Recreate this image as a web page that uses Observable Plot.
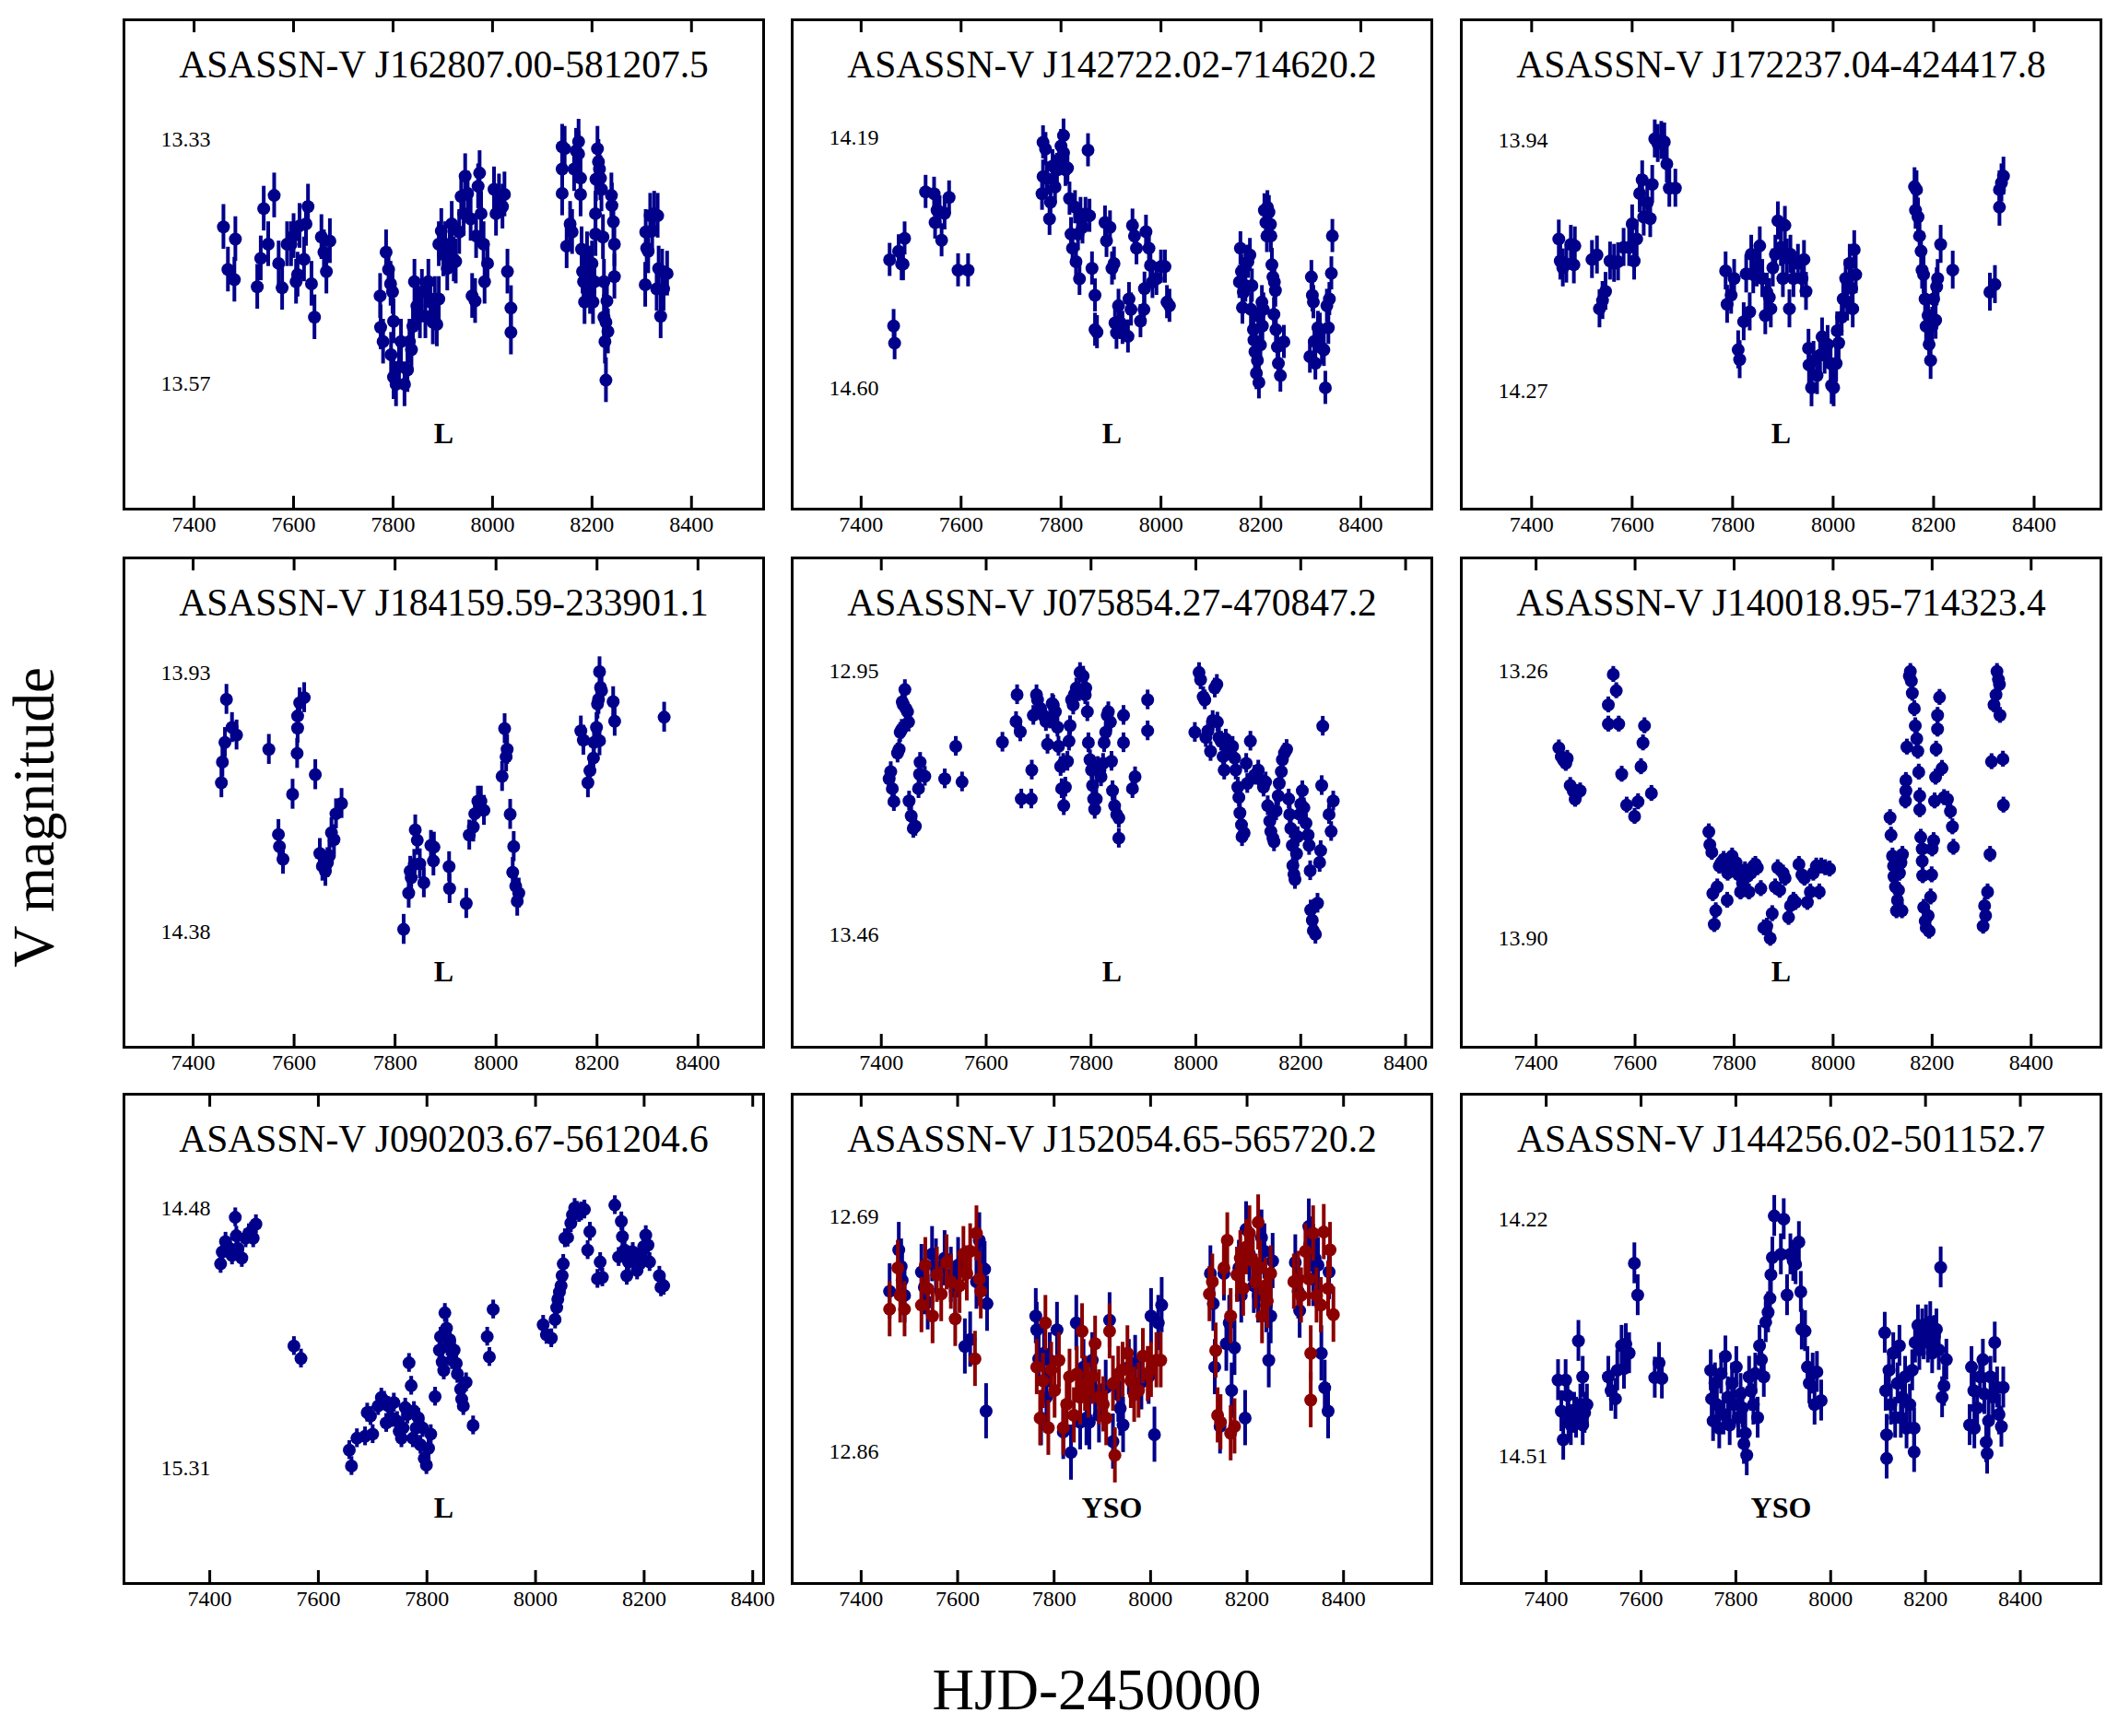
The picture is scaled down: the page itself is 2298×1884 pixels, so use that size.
<!DOCTYPE html>
<html><head><meta charset="utf-8">
<script src="https://cdn.jsdelivr.net/npm/d3@7"></script>
<script src="https://cdn.jsdelivr.net/npm/@observablehq/plot@0.6"></script>
<style>
body{margin:0;background:#fff;}
#root{position:relative;width:2298px;height:1884px;background:#fff;overflow:hidden;font-family:"Liberation Serif","Times New Roman",serif;}
#root svg.panel{position:absolute;font-family:"Liberation Serif","Times New Roman",serif !important;}
#root svg text{font-family:"Liberation Serif","Times New Roman",serif !important;}
</style></head><body><div id="root"></div>
<script>
const titles = ["ASASSN-V J162807.00-581207.5","ASASSN-V J142722.02-714620.2","ASASSN-V J172237.04-424417.8",
"ASASSN-V J184159.59-233901.1","ASASSN-V J075854.27-470847.2","ASASSN-V J140018.95-714323.4",
"ASASSN-V J090203.67-561204.6","ASASSN-V J152054.65-565720.2","ASASSN-V J144256.02-501152.7"];
const classes = ["L","L","L","L","L","L","L","YSO","YSO"];
const yLabels = [[13.33,13.57],[14.19,14.60],[13.94,14.27],[13.93,14.38],[12.95,13.46],[13.26,13.90],[14.48,15.31],[12.69,12.86],[14.22,14.51]];
const yDomains = [[13.212,13.694],[13.998,14.797],[13.781,14.426],[13.730,14.581],[12.731,13.679],[12.988,14.160],[14.114,15.680],[12.601,12.956],[14.067,14.666]];
const xDomains = [[7259,8545],[7262,8542],[7260,8533],[7263,8530],[7230,8450],[7249,8541],[7242,8420],[7257,8583],[7221,8570]];
const xTicks = [7400,7600,7800,8000,8200,8400];
const errs = [0.022,0.027,0.025,0.026,0.019,0.019,0.03,0.02,0.025];

const p1 = [[7459,13.416],[7468,13.458],[7481,13.468],[7483,13.428],[7527,13.475],[7534,13.447],[7540,13.398],[7549,13.433],[7561,13.385],[7570,13.452],[7577,13.476],[7587,13.433],[7595,13.433],[7600,13.425],[7605,13.470],[7608,13.463],[7612,13.415],[7621,13.448],[7625,13.413],[7629,13.396],[7636,13.472],[7642,13.505],[7656,13.426],[7661,13.441],[7666,13.460],[7673,13.430],
[7774,13.484],[7775,13.515],[7780,13.529],[7786,13.441],[7791,13.458],[7795,13.472],[7799,13.480],[7801,13.509],[7796,13.542],[7801,13.564],[7806,13.571],[7812,13.554],[7816,13.529],[7823,13.571],[7829,13.557],[7833,13.529],[7837,13.537],[7840,13.514],[7843,13.470],[7848,13.494],[7854,13.504],[7858,13.480],[7865,13.504],[7871,13.470],[7875,13.490],[7880,13.510],[7884,13.487],[7888,13.512],[7892,13.487],[7892,13.433],[7897,13.420],[7901,13.443],[7905,13.433],[7909,13.457],[7914,13.437],[7918,13.413],[7922,13.448],[7926,13.450],[7933,13.421],[7937,13.386],[7942,13.403],[7945,13.366],[7950,13.383],[7956,13.408],[7959,13.484],[7965,13.489],[7967,13.425],[7971,13.376],[7974,13.363],[7977,13.403],[7982,13.433],[7984,13.470],[7990,13.452],[8003,13.379],[8007,13.403],[8013,13.386],[8020,13.396],[8024,13.384],[8030,13.460],[8037,13.496],[8037,13.520],
[8140,13.337],[8140,13.359],[8140,13.383],[8145,13.339],[8149,13.435],[8156,13.413],[8160,13.421],[8164,13.359],[8168,13.341],[8173,13.332],[8173,13.344],[8177,13.368],[8177,13.384],[8179,13.438],[8181,13.460],[8183,13.470],[8185,13.490],[8190,13.443],[8194,13.457],[8196,13.480],[8200,13.452],[8202,13.490],[8205,13.470],[8207,13.403],[8207,13.423],[8208,13.369],[8211,13.339],[8213,13.352],[8215,13.359],[8217,13.368],[8219,13.379],[8222,13.426],[8224,13.470],[8224,13.505],[8226,13.529],[8228,13.510],[8228,13.567],[8230,13.489],[8232,13.519],[8239,13.385],[8240,13.395],[8243,13.411],[8245,13.433],[8245,13.465],
[8307,13.473],[8308,13.421],[8310,13.437],[8313,13.440],[8317,13.405],[8321,13.420],[8325,13.403],[8330,13.477],[8332,13.405],[8334,13.457],[8338,13.504],[8341,13.460],[8344,13.477],[8351,13.462]];

const p2 = [[7457,14.390],[7465,14.498],[7467,14.526],[7475,14.376],[7481,14.397],[7484,14.397],[7487,14.355],[7529,14.279],[7546,14.282],[7548,14.329],[7552,14.309],[7557,14.312],[7561,14.358],[7567,14.314],[7576,14.288],[7594,14.407],[7614,14.407],
[7764,14.198],[7764,14.254],[7762,14.282],[7769,14.209],[7772,14.257],[7777,14.323],[7779,14.296],[7783,14.237],[7788,14.271],[7792,14.243],[7796,14.226],[7800,14.204],[7805,14.187],[7805,14.215],[7809,14.243],[7813,14.240],[7817,14.290],[7820,14.348],[7823,14.371],[7828,14.304],[7830,14.393],[7834,14.348],[7837,14.421],[7839,14.315],[7843,14.337],[7849,14.315],[7854,14.211],[7857,14.318],[7862,14.404],[7868,14.448],[7868,14.504],[7872,14.508],[7888,14.329],[7891,14.359],[7898,14.337],[7902,14.404],[7906,14.396],[7908,14.493],[7911,14.509],[7915,14.465],[7919,14.493],[7923,14.501],[7934,14.515],[7936,14.454],[7940,14.471],[7943,14.334],[7947,14.351],[7951,14.371],[7959,14.490],[7966,14.471],[7967,14.437],[7970,14.344],[7976,14.371],[7979,14.399],[7983,14.426],[7991,14.421],[8000,14.401],[8008,14.401],[8012,14.459],[8017,14.465],
[8157,14.426],[8159,14.371],[8161,14.409],[8163,14.468],[8165,14.443],[8169,14.432],[8174,14.393],[8178,14.382],[8180,14.471],[8182,14.432],[8185,14.504],[8186,14.521],[8188,14.540],[8191,14.575],[8193,14.554],[8195,14.482],[8196,14.590],[8199,14.529],[8202,14.459],[8203,14.498],[8205,14.471],[8207,14.309],[8210,14.329],[8212,14.351],[8213,14.304],[8216,14.312],[8219,14.332],[8220,14.351],[8222,14.398],[8224,14.418],[8226,14.479],[8227,14.426],[8229,14.440],[8230,14.504],[8233,14.532],[8235,14.559],[8239,14.579],[8246,14.524],
[8298,14.548],[8301,14.418],[8303,14.448],[8305,14.459],[8307,14.523],[8309,14.559],[8314,14.501],[8318,14.504],[8322,14.534],[8326,14.537],[8329,14.599],[8332,14.465],[8335,14.501],[8337,14.454],[8341,14.412],[8343,14.351]];

const p3 = [[7454,14.070],[7457,14.099],[7462,14.108],[7469,14.103],[7478,14.077],[7484,14.104],[7486,14.079],[7520,14.097],[7530,14.091],[7535,14.162],[7541,14.151],[7547,14.139],[7556,14.099],[7564,14.102],[7572,14.100],[7583,14.081],[7594,14.081],[7600,14.050],[7604,14.099],[7609,14.070],[7615,14.010],[7620,13.992],[7623,14.041],[7630,14.022],[7636,14.043],[7640,13.998],[7645,13.938],[7651,13.944],[7658,13.940],[7664,13.942],[7669,13.971],[7674,14.003],[7686,14.003],
[7786,14.112],[7789,14.156],[7797,14.144],[7803,14.122],[7811,14.216],[7814,14.229],[7822,14.179],[7827,14.116],[7834,14.166],[7837,14.090],[7841,14.117],[7848,14.108],[7854,14.079],[7859,14.122],[7865,14.171],[7868,14.140],[7873,14.147],[7876,14.162],[7880,14.108],[7885,14.090],[7890,14.046],[7896,14.081],[7900,14.122],[7904,14.052],[7908,14.095],[7913,14.162],[7915,14.090],[7921,14.122],[7930,14.102],[7938,14.122],[7942,14.097],[7946,14.139],[7951,14.214],[7952,14.236],[7957,14.266],[7961,14.230],[7968,14.250],[7974,14.223],[7978,14.199],[7983,14.223],[7989,14.209],[7995,14.234],[7997,14.263],[8001,14.266],[8006,14.234],[8008,14.191],[8011,14.207],[8017,14.173],[8020,14.149],[8025,14.122],[8028,14.153],[8033,14.102],[8037,14.135],[8039,14.162],[8042,14.084],[8045,14.117],
[8162,14.001],[8166,14.005],[8164,14.032],[8169,14.041],[8172,14.066],[8175,14.086],[8177,14.111],[8180,14.117],[8183,14.149],[8185,14.185],[8189,14.171],[8191,14.209],[8194,14.230],[8197,14.185],[8200,14.149],[8204,14.177],[8206,14.133],[8208,14.122],[8214,14.077],[8238,14.111],
[8312,14.140],[8322,14.130],[8331,14.028],[8331,14.005],[8335,13.996],[8339,13.987]];

const p4 = [[7456,14.121],[7458,14.085],[7463,14.051],[7466,13.976],[7477,14.025],[7486,14.038],[7550,14.063],[7569,14.211],[7571,14.232],[7578,14.254],[7597,14.141],[7606,14.070],[7607,14.026],[7607,14.005],[7611,13.982],[7620,13.973],[7642,14.107],[7651,14.244],[7656,14.266],[7662,14.275],[7666,14.260],[7670,14.248],[7674,14.208],[7679,14.220],[7683,14.175],[7694,14.157],
[7817,14.376],[7827,14.313],[7830,14.275],[7832,14.286],[7838,14.263],[7840,14.203],[7844,14.221],[7849,14.262],[7857,14.295],[7871,14.230],[7876,14.257],[7877,14.233],[7907,14.267],[7908,14.305],[7941,14.331],[7947,14.212],[7955,14.198],[7958,14.175],[7964,14.153],[7970,14.153],[7976,14.169],[8012,14.110],[8017,14.027],[8020,14.076],[8022,14.063],[8028,14.176],[8035,14.232],[8033,14.277],[8039,14.301],[8042,14.327],[8045,14.313],
[8168,14.031],[8173,14.047],[8182,14.121],[8186,14.100],[8193,14.078],[8194,14.051],[8199,14.025],[8201,13.984],[8203,13.976],[8205,14.048],[8207,13.955],[8205,13.928],[8209,13.961],[8232,13.980],[8235,14.014],[8333,14.007]];

const p5 = [[7415,13.159],[7418,13.145],[7421,13.178],[7424,13.203],[7431,13.109],[7434,13.102],[7436,13.069],[7439,13.063],[7440,13.010],[7442,13.016],[7445,12.986],[7447,13.023],[7450,13.029],[7452,13.049],[7453,13.202],[7457,13.231],[7461,13.255],[7465,13.251],[7471,13.178],[7473,13.150],[7474,13.127],[7483,13.154],
[7521,13.159],[7542,13.096],[7554,13.165],[7631,13.088],[7657,13.048],[7659,12.996],[7665,13.068],[7667,13.198],[7686,13.198],[7687,13.142],[7690,13.036],[7696,12.996],[7698,13.006],[7704,13.023],[7709,13.036],[7714,13.048],[7717,13.092],[7722,13.043],[7726,13.013],[7728,13.016],[7732,13.029],[7736,13.059],[7738,13.096],[7742,13.135],[7744,13.178],[7747,13.129],[7748,13.211],[7751,13.175],[7755,13.125],[7758,13.086],[7760,13.056],[7763,13.006],[7766,13.016],[7768,12.996],[7772,12.983],[7777,12.990],[7779,12.953],[7785,12.960],[7789,12.996],[7790,12.983],[7793,13.029],[7795,13.089],[7798,13.122],[7801,13.142],[7803,13.172],[7805,13.198],[7807,13.218],[7810,13.198],[7813,13.135],[7817,13.142],[7819,13.155],[7823,13.129],[7825,13.089],[7828,13.069],[7831,13.036],[7833,13.029],[7837,13.049],[7839,13.125],[7841,13.182],[7845,13.211],[7849,13.228],[7853,13.235],[7853,13.274],[7862,13.036],[7862,13.089],[7879,13.178],[7884,13.155],[7908,13.006],[7908,13.066],
[7998,13.069],[8006,12.953],[8009,12.967],[8014,13.000],[8017,13.006],[8019,13.079],[8023,13.066],[8028,13.106],[8032,13.046],[8036,12.983],[8040,12.976],[8041,13.049],[8044,13.079],[8048,13.086],[8052,13.116],[8054,13.142],[8057,13.082],[8062,13.102],[8070,13.096],[8074,13.119],[8076,13.142],[8080,13.175],[8082,13.195],[8084,13.225],[8087,13.248],[8088,13.271],[8092,13.264],[8096,13.129],[8098,13.168],[8104,13.086],[8112,13.152],[8119,13.142],[8125,13.162],[8129,13.175],[8133,13.165],[8137,13.211],[8141,13.241],[8143,13.261],[8147,13.274],[8149,13.281],[8153,13.221],[8157,13.192],[8159,13.168],[8163,13.145],[8165,13.122],[8169,13.109],[8173,13.102],[8177,13.198],[8179,13.228],[8181,13.255],[8184,13.288],[8185,13.327],[8187,13.344],[8189,13.354],[8192,13.304],[8194,13.271],[8198,13.228],[8200,13.208],[8203,13.182],[8206,13.215],[8210,13.245],[8214,13.268],[8216,13.288],[8218,13.337],[8219,13.413],[8222,13.433],[8224,13.453],[8228,13.460],[8232,13.400],[8236,13.321],[8238,13.298],[8240,13.172],[8242,13.057],[8254,13.228],[8258,13.261],[8262,13.202]];

const p6 = [[7446,13.443],[7451,13.464],[7455,13.472],[7460,13.480],[7463,13.468],[7469,13.533],[7475,13.546],[7479,13.566],[7483,13.550],[7489,13.546],[7546,13.340],[7546,13.386],[7556,13.267],[7562,13.306],[7567,13.386],[7573,13.506],[7583,13.580],[7599,13.607],[7606,13.572],[7612,13.488],[7616,13.431],[7619,13.390],[7633,13.552],
[7749,13.644],[7751,13.675],[7755,13.693],[7757,13.792],[7760,13.866],[7763,13.833],[7766,13.776],[7770,13.726],[7774,13.718],[7779,13.710],[7783,13.730],[7786,13.808],[7787,13.743],[7792,13.718],[7796,13.702],[7800,13.730],[7804,13.718],[7809,13.747],[7813,13.788],[7817,13.767],[7822,13.735],[7826,13.751],[7830,13.788],[7834,13.743],[7839,13.726],[7843,13.722],[7847,13.730],[7854,13.780],[7860,13.874],[7866,13.870],[7873,13.899],[7877,13.840],[7883,13.776],[7888,13.730],[7892,13.784],[7899,13.743],[7903,13.755],[7910,13.849],[7914,13.821],[7920,13.808],[7924,13.813],[7931,13.722],[7937,13.747],[7942,13.755],[7948,13.813],[7954,13.788],[7960,13.743],[7966,13.726],[7972,13.788],[7976,13.726],[7984,13.730],[7993,13.733],
[8115,13.610],[8117,13.652],[8120,13.702],[8122,13.726],[8123,13.751],[8126,13.776],[8128,13.833],[8130,13.808],[8132,13.784],[8134,13.743],[8137,13.718],[8139,13.833],[8140,13.698],[8146,13.570],[8147,13.546],[8147,13.521],[8149,13.441],[8154,13.271],[8156,13.260],[8158,13.283],[8160,13.312],[8164,13.349],[8166,13.390],[8169,13.421],[8171,13.451],[8173,13.501],[8175,13.558],[8175,13.591],[8177,13.657],[8180,13.685],[8180,13.714],[8181,13.749],[8183,13.825],[8186,13.858],[8188,13.874],[8192,13.845],[8194,13.882],[8197,13.800],[8199,13.747],[8200,13.685],[8203,13.665],[8205,13.570],[8207,13.513],[8208,13.446],[8211,13.398],[8211,13.365],[8215,13.322],[8220,13.492],[8224,13.562],[8231,13.566],[8237,13.595],[8241,13.632],[8243,13.681],
[8303,13.870],[8306,13.821],[8308,13.845],[8312,13.788],[8317,13.698],[8320,13.476],[8325,13.340],[8329,13.316],[8331,13.260],[8334,13.279],[8336,13.291],[8337,13.365],[8343,13.470],[8344,13.580]];

const p7 = [[7420,14.657],[7423,14.619],[7429,14.586],[7437,14.608],[7441,14.630],[7447,14.508],[7449,14.567],[7452,14.608],[7459,14.638],[7466,14.575],[7472,14.559],[7476,14.554],[7480,14.575],[7485,14.530],
[7555,14.920],[7568,14.960],
[7657,15.253],[7661,15.304],[7671,15.215],[7686,15.209],[7690,15.133],[7696,15.144],[7700,15.202],[7710,15.112],[7716,15.085],[7721,15.095],[7725,15.166],[7729,15.112],[7735,15.150],[7739,15.101],[7745,15.160],[7749,15.193],[7753,15.215],[7756,15.182],[7760,15.117],[7764,15.139],[7767,14.974],[7771,15.047],[7774,15.215],[7776,15.128],[7780,15.182],[7784,15.150],[7788,15.236],[7792,15.182],[7795,15.280],[7799,15.301],[7803,15.247],[7807,15.202],[7815,15.082],[7823,14.933],[7825,14.890],[7828,14.971],[7831,14.998],[7833,14.814],[7836,14.863],[7838,14.922],[7842,14.900],[7846,14.965],[7850,14.933],[7854,14.976],[7856,15.009],[7862,15.058],[7864,15.090],[7867,15.112],[7872,15.036],[7885,15.174],[7911,14.890],[7915,14.955],[7922,14.803],
[8014,14.852],[8020,14.884],[8029,14.895],[8036,14.835],[8039,14.797],[8041,14.770],[8044,14.747],[8047,14.727],[8049,14.695],[8051,14.657],[8054,14.575],[8059,14.573],[8065,14.527],[8068,14.500],[8072,14.478],[8076,14.487],[8080,14.494],[8084,14.489],[8090,14.483],[8096,14.613],[8100,14.554],[8114,14.705],[8119,14.651],[8123,14.700],[8146,14.469],[8153,14.635],[8158,14.521],[8160,14.570],[8164,14.613],[8168,14.695],[8171,14.651],[8176,14.630],[8179,14.619],[8184,14.651],[8187,14.678],[8192,14.657],[8195,14.630],[8199,14.602],[8203,14.565],[8207,14.597],[8210,14.651],[8228,14.695],[8231,14.732],[8236,14.727]];

const p8blue = [[7459,12.744],[7478,12.714],[7483,12.726],[7485,12.736],[7490,12.747],[7525,12.730],[7531,12.741],[7538,12.752],[7547,12.717],[7555,12.726],[7573,12.720],[7586,12.732],[7595,12.744],[7601,12.725],[7615,12.784],[7626,12.779],[7639,12.737],[7645,12.707],[7652,12.727],[7656,12.728],[7659,12.831],[7661,12.753],
[7762,12.762],[7764,12.772],[7768,12.793],[7773,12.836],[7779,12.789],[7784,12.821],[7791,12.794],[7806,12.772],[7819,12.846],[7835,12.861],[7846,12.767],[7854,12.839],[7861,12.799],[7867,12.836],[7873,12.839],[7879,12.794],[7885,12.816],[7893,12.834],[7907,12.814],[7915,12.765],[7922,12.853],[7933,12.819],[7937,12.829],[7943,12.841],[7955,12.799],[7968,12.796],[7981,12.810],[7996,12.806],[8001,12.762],[8008,12.848],[8016,12.767],[8023,12.754],
[8124,12.731],[8130,12.753],[8133,12.799],[8144,12.842],[8152,12.731],[8157,12.782],[8163,12.767],[8168,12.816],[8174,12.785],[8183,12.727],[8188,12.747],[8196,12.836],[8198,12.699],[8205,12.717],[8214,12.740],[8223,12.747],[8230,12.705],[8236,12.715],[8240,12.754],[8245,12.794],[8249,12.762],[8253,12.722],
[8300,12.723],[8306,12.744],[8309,12.758],[8328,12.697],[8330,12.710],[8337,12.735],[8341,12.720],[8347,12.725],[8354,12.789],[8361,12.814],[8368,12.831],[8370,12.730]];

const p8red = [[7459,12.757],[7476,12.727],[7481,12.747],[7490,12.757],[7525,12.754],[7533,12.725],[7538,12.742],[7548,12.762],[7557,12.732],[7566,12.746],[7577,12.723],[7586,12.737],[7595,12.764],[7604,12.740],[7612,12.717],[7619,12.731],[7626,12.715],[7636,12.793],[7639,12.702],[7645,12.735],[7648,12.744],
[7764,12.799],[7771,12.836],[7777,12.809],[7782,12.767],[7788,12.843],[7794,12.801],[7801,12.816],[7810,12.794],[7819,12.843],[7826,12.826],[7832,12.806],[7841,12.834],[7847,12.804],[7854,12.821],[7858,12.773],[7864,12.811],[7871,12.816],[7880,12.806],[7885,12.782],[7893,12.821],[7902,12.826],[7908,12.836],[7915,12.773],[7922,12.811],[7926,12.863],[7933,12.804],[7942,12.801],[7952,12.789],[7959,12.809],[7966,12.819],[7975,12.816],[7984,12.791],[7994,12.804],[8001,12.801],[8012,12.794],[8021,12.794],
[8122,12.746],[8128,12.737],[8135,12.787],[8139,12.834],[8145,12.839],[8152,12.727],[8159,12.707],[8166,12.762],[8166,12.847],[8174,12.842],[8179,12.732],[8186,12.720],[8192,12.742],[8198,12.712],[8205,12.702],[8212,12.722],[8218,12.737],[8223,12.694],[8227,12.727],[8231,12.762],[8238,12.740],[8242,12.751],[8249,12.731],
[8297,12.737],[8306,12.735],[8312,12.747],[8321,12.715],[8328,12.735],[8332,12.789],[8332,12.823],[8337,12.702],[8344,12.747],[8353,12.754],[8359,12.701],[8368,12.742],[8372,12.714],[8379,12.761]];

const p9 = [[7425,14.417],[7432,14.455],[7436,14.490],[7441,14.417],[7445,14.436],[7447,14.467],[7452,14.472],[7459,14.457],[7463,14.463],[7468,14.369],[7472,14.447],[7477,14.413],[7477,14.472],[7481,14.457],[7486,14.447],[7531,14.413],[7537,14.430],[7546,14.440],[7550,14.405],[7559,14.375],[7564,14.403],[7568,14.373],[7575,14.384],[7586,14.274],[7593,14.313],[7629,14.414],[7638,14.396],[7644,14.415],
[7747,14.405],[7749,14.440],[7752,14.467],[7756,14.421],[7760,14.447],[7765,14.476],[7769,14.409],[7774,14.459],[7778,14.388],[7783,14.438],[7787,14.472],[7792,14.421],[7796,14.447],[7801,14.401],[7805,14.463],[7810,14.434],[7814,14.451],[7817,14.495],[7820,14.482],[7823,14.509],[7828,14.413],[7832,14.430],[7837,14.447],[7841,14.409],[7846,14.463],[7850,14.375],[7854,14.392],[7859,14.413],[7863,14.346],[7868,14.334],[7872,14.317],[7874,14.288],[7877,14.267],[7881,14.216],[7895,14.263],[7901,14.220],[7908,14.313],[7915,14.263],[7921,14.271],[7926,14.275],[7933,14.248],[7937,14.309],[7939,14.355],[7946,14.357],[7951,14.401],[7955,14.421],[7962,14.409],[7966,14.447],[7971,14.407],[7980,14.442],
[8114,14.359],[8116,14.430],[8118,14.484],[8118,14.513],[8123,14.405],[8127,14.447],[8132,14.384],[8136,14.463],[8141,14.421],[8145,14.375],[8148,14.463],[8151,14.438],[8157,14.413],[8160,14.476],[8167,14.447],[8172,14.405],[8176,14.476],[8176,14.505],[8178,14.371],[8184,14.350],[8187,14.380],[8193,14.355],[8196,14.367],[8201,14.350],[8205,14.371],[8210,14.346],[8214,14.384],[8219,14.363],[8223,14.355],[8228,14.380],[8232,14.279],[8235,14.438],[8239,14.424],[8244,14.392],
[8293,14.472],[8297,14.401],[8302,14.430],[8303,14.476],[8309,14.451],[8315,14.413],[8321,14.392],[8324,14.434],[8328,14.493],[8330,14.507],[8333,14.467],[8337,14.413],[8342,14.438],[8346,14.371],[8351,14.426],[8355,14.459],[8360,14.474],[8364,14.426]];

const BLUE = "#00008b", RED = "#8b0000";
const FONT = '"Liberation Serif","Times New Roman",serif';
const panelSeries = [
  [{pts:p1,c:BLUE}],[{pts:p2,c:BLUE}],[{pts:p3,c:BLUE}],
  [{pts:p4,c:BLUE}],[{pts:p5,c:BLUE}],[{pts:p6,c:BLUE}],
  [{pts:p7,c:BLUE}],[{pts:p8blue,c:BLUE},{pts:p8red,c:RED}],[{pts:p9,c:BLUE}]
];

const colLeft = [133.5, 859, 1584.5];
const rowTop = [21, 605, 1187];
const W = 694, H = 531, M = 4, MB = 44;
const root = document.getElementById("root");

for (let i = 0; i < 9; i++) {
  const e = errs[i];
  const marks = [];
  for (const s of panelSeries[i]) {
    marks.push(Plot.ruleX(s.pts, {x: d => d[0], y1: d => d[1] - e, y2: d => d[1] + e, stroke: s.c, strokeWidth: 4}));
    marks.push(Plot.dot(s.pts, {x: d => d[0], y: d => d[1], r: 7, fill: s.c, stroke: "none"}));
  }
  marks.push(Plot.ruleX(xTicks, {x: d => d, insetTop: H - 14, stroke: "black", strokeWidth: 3}));
  marks.push(Plot.ruleX(xTicks, {x: d => d, insetBottom: H - 14, stroke: "black", strokeWidth: 3}));
  marks.push(Plot.frame({stroke: "black", strokeWidth: 3}));
  marks.push(Plot.axisX(xTicks, {anchor: "bottom", tickSize: 0, tickPadding: 7, tickFormat: "d", fontSize: 24, fontFamily: FONT, label: null}));
  marks.push(Plot.text(yLabels[i], {y: d => d, text: d => d.toFixed(2), frameAnchor: "left", dx: 40, textAnchor: "start", lineAnchor: "middle", fontSize: 24, fontFamily: FONT, fill: "black"}));
  marks.push(Plot.text([titles[i]], {text: d => d, frameAnchor: "top", dy: 49, lineAnchor: "middle", fontSize: 41.5, fontFamily: FONT, fill: "black"}));
  marks.push(Plot.text([classes[i]], {text: d => d, frameAnchor: "bottom", dy: -82, lineAnchor: "middle", fontSize: 32, fontWeight: "bold", fontFamily: FONT, fill: "black"}));
  const svg = Plot.plot({
    width: W + 2 * M, height: H + M + MB,
    marginLeft: M, marginRight: M, marginTop: M, marginBottom: MB,
    x: {domain: xDomains[i]},
    y: {domain: yDomains[i], reverse: true, axis: null},
    style: {fontFamily: FONT, overflow: "visible", background: "transparent", color: "black"},
    marks
  });
  svg.classList.add("panel");
  svg.style.left = (colLeft[i % 3] - M) + "px";
  svg.style.top = (rowTop[Math.floor(i / 3)] - M) + "px";
  root.appendChild(svg);
}

const ov = d3.select(root).append("svg")
  .attr("width", 2298).attr("height", 1884)
  .style("position", "absolute").style("left", "0px").style("top", "0px")
  .style("pointer-events", "none")
  .style("font-family", FONT);
ov.append("text").attr("transform", "translate(58,887) rotate(-90)")
  .attr("text-anchor", "middle").attr("font-size", 63).attr("fill", "black").text("V magnitude");
ov.append("text").attr("x", 1190).attr("y", 1855)
  .attr("text-anchor", "middle").attr("font-size", 63).attr("fill", "black").text("HJD-2450000");
</script>
</body></html>
